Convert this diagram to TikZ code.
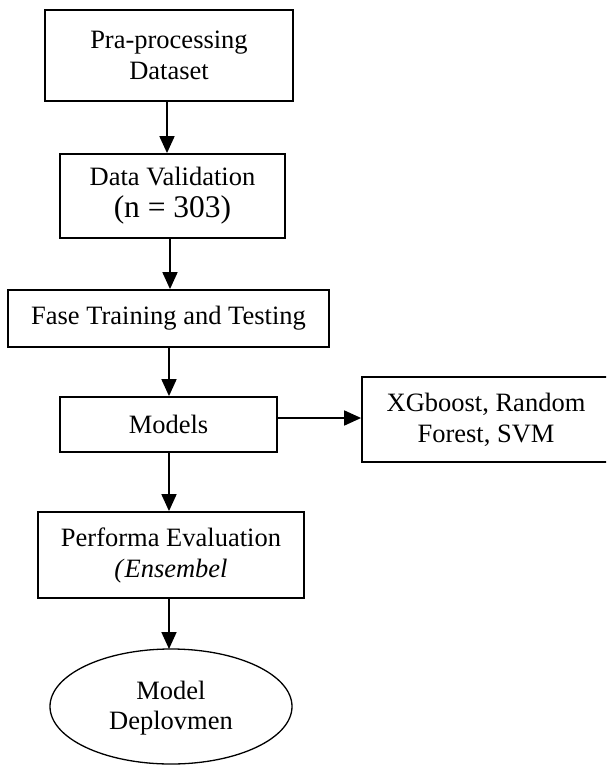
\documentclass[tikz,border=0pt]{standalone}
\usepackage{fontspec}
\setmainfont{Liberation Serif}
\usetikzlibrary{arrows.meta,shapes.geometric}
\tikzset{
  box/.style={draw, line width=1.8pt, rectangle, inner sep=0pt, align=center,
    font=\fontsize{26.5}{31}\selectfont},
  ovaltext/.style={inner sep=0pt, align=center, font=\fontsize{26.5}{30}\selectfont},
  ovalline/.style={line width=1.3pt},
  flow/.style={draw, line width=1.8pt, -{Triangle[width=15pt,length=17pt]}}
}
\begin{document}
\begin{tikzpicture}[x=1pt,y=-1pt]
\useasboundingbox (0,0) rectangle (606,765);
\clip (0,0) rectangle (606,765);
\node[box, minimum width=248pt, minimum height=91pt] (b1) at (169,55.5) {Pra-processing\\Dataset};
\node[box, minimum width=225pt, minimum height=84pt] (b2) at (172.5,196) {Data Validation\\[1pt]{\fontsize{31.5}{36}\selectfont (n = 303)}};
\node[box, minimum width=320.5pt, minimum height=57pt] (b3) at (168.5,318.5) {Fase Training and Testing};
\node[box, minimum width=217pt, minimum height=55pt] (b4) at (168.5,424.5) {Models};
\node[box, minimum width=248pt, minimum height=85pt] (b5) at (486,419.5) {XGboost, Random\\Forest, SVM};
\node[box, minimum width=266pt, minimum height=86pt] (b6) at (171,555) {Performa Evaluation\\\textit{(}\textit{Ensembel}};
% ellipse drawn explicitly around its text node
\coordinate (ec) at (171,706.5);
\draw[ovalline] (ec) ellipse [x radius=121pt, y radius=57.5pt];
\coordinate (etop) at (171,649);
\node[ovaltext] (e) at (171,708) {Model\\Deplovmen};
\coordinate (a1) at (167,101);
\draw[flow] (a1) -- (a1 |- b2.north);
\coordinate (a2) at (170,238);
\draw[flow] (a2) -- (a2 |- b3.north);
\coordinate (a3) at (169,347);
\draw[flow] (a3) -- (a3 |- b4.north);
\coordinate (a4) at (169,452);
\draw[flow] (a4) -- (a4 |- b6.north);
\coordinate (a5) at (169,598);
\draw[flow] (a5) -- (a5 |- etop);
\coordinate (h1) at (277,418);
\draw[flow] (h1) -- (h1 -| b5.west);
\end{tikzpicture}
\end{document}
